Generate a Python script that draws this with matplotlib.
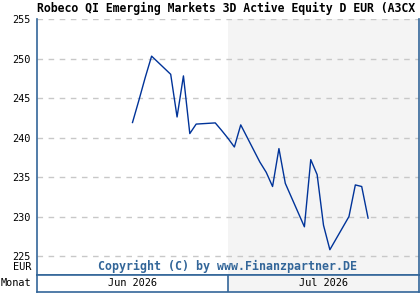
import pandas as pd
import matplotlib
matplotlib.use('Agg')
import matplotlib.pyplot as plt

# fund price, EUR (daily closes)
dates = ['2026-06-16', '2026-06-17', '2026-06-18', '2026-06-19',
         '2026-06-22', '2026-06-23', '2026-06-24', '2026-06-25', '2026-06-26',
         '2026-06-29', '2026-06-30', '2026-07-01', '2026-07-02', '2026-07-03',
         '2026-07-06', '2026-07-07', '2026-07-08', '2026-07-09', '2026-07-10',
         '2026-07-13', '2026-07-14', '2026-07-15', '2026-07-16', '2026-07-17',
         '2026-07-20', '2026-07-21', '2026-07-22', '2026-07-23']
price = [241.9, 244.7, 247.6, 250.3,
         248.0, 242.6, 247.8, 240.5, 241.7,
         241.85, 240.9, 239.9, 238.8, 241.6,
         236.9, 235.6, 233.8, 238.6, 234.2,
         228.7, 237.2, 235.3, 228.9, 225.8,
         230.0, 234.0, 233.8, 229.8]

yticks = [225, 230, 235, 240, 245, 250, 255]
months = ['Jun 2026', 'Jul 2026']
month_start = ['2026-06-01', '2026-07-01']

title = 'Robeco QI Emerging Markets 3D Active Equity D EUR (A3CX'

frame = '#336699'
line_col = '#003399'
shade = '#f4f4f4'
mono = 'DejaVu Sans Mono'

t0 = pd.Timestamp('2026-06-01')
x = (pd.to_datetime(dates) - t0).days
mx = list((pd.to_datetime(month_start) - t0).days)
xmax = 60

W, H = 420, 300
fig = plt.figure(figsize=(W / 100, H / 100), dpi=100)
fig.patch.set_facecolor('white')

# main plot area
ax = fig.add_axes([37 / W, (H - 275) / H, 382 / W, 256 / H])
ax.set_xlim(0, xmax)
ax.set_ylim(222.6, 255.0)
ax.axvspan(mx[1], xmax, color=shade, zorder=0, lw=0)
for v in yticks:
    ax.axhline(v, color='#c8c8c8', lw=1.0, ls=(0, (4, 4)), zorder=1)
ax.plot(x, price, color=line_col, lw=1.0, zorder=3)

ax.set_xticks([])
ax.set_yticks(yticks)
ax.set_yticklabels([str(v) for v in yticks], fontsize=7.4, family=mono)
ax.tick_params(axis='y', length=0, pad=4.5)
for s in ['left', 'right', 'bottom']:
    ax.spines[s].set_color(frame)
    ax.spines[s].set_linewidth(1.2)
ax.spines['top'].set_visible(False)

ax.text(0.5, 0.035, 'Copyright (C) by www.Finanzpartner.DE', transform=ax.transAxes,
        ha='center', va='center', fontsize=8.4, family=mono, fontweight='bold',
        color=frame)

# month row
axm = fig.add_axes([37 / W, (H - 292) / H, 382 / W, 17 / H])
axm.set_xlim(0, xmax)
axm.set_ylim(0, 1)
axm.axvspan(mx[1], xmax, color=shade, zorder=0, lw=0)
axm.axvline(mx[1], color=frame, lw=1.2)
ends = mx[1:] + [xmax]
for lab, a, b in zip(months, mx, ends):
    axm.text((a + b) / 2, 0.5, lab, ha='center', va='center', fontsize=7.4,
             family=mono)
axm.set_xticks([])
axm.set_yticks([])
for s in axm.spines.values():
    s.set_color(frame)
    s.set_linewidth(1.2)

fig.text(31 / W, 1 - 267 / H, 'EUR', ha='right', va='center', fontsize=7.4, family=mono)
fig.text(31 / W, 1 - 283.5 / H, 'Monat', ha='right', va='center', fontsize=7.4, family=mono)
fig.text(37 / W, 1 - 8.5 / H, title, ha='left', va='center', fontsize=8.3,
         family=mono, fontweight='bold')

fig.savefig('out.png', dpi=100)
